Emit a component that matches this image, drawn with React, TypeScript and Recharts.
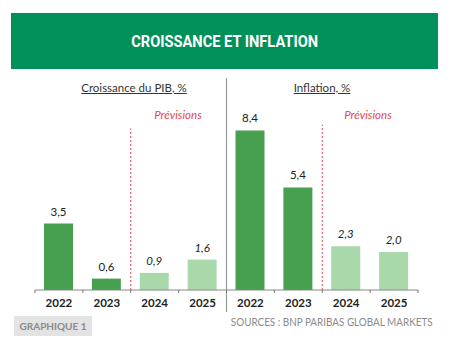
import React from "react";
import { BarChart, Bar, XAxis, YAxis, Cell, LabelList, ReferenceLine } from "recharts";

const years = ["2022", "2023", "2024", "2025"];
const gdpGrowth = [3.5, 0.6, 0.9, 1.6];
const inflation = [8.4, 5.4, 2.3, 2.0];
const forecastYears = ["2024", "2025"];

const rows = [
  ...years.map((y, i) => ({ key: `pib-${y}`, year: y, value: gdpGrowth[i], forecast: forecastYears.includes(y) })),
  ...years.map((y, i) => ({ key: `inf-${y}`, year: y, value: inflation[i], forecast: forecastYears.includes(y) })),
];

const W = 455;
const H = 347;
const margin = { top: 100, right: 37, bottom: 27, left: 35 };
const halfBand = (W - margin.left - margin.right) / rows.length / 2;

const DARK = "#47a04f";
const LIGHT = "#a9d9ab";
const RED = "#e8464f";
const FONT = "Lato, 'Open Sans', sans-serif";

const fmt = (v: number) => v.toFixed(1).replace(".", ",");

const YearTick = (props: any) => {
  const { x, y, payload, index } = props;
  const row = rows.find((r) => r.key === payload.value);
  return (
    <g>
      <line x1={x - halfBand} x2={x - halfBand} y1={y - 8} y2={y - 5} stroke="#777" />
      {index === rows.length - 1 && (
        <line x1={x + halfBand} x2={x + halfBand} y1={y - 8} y2={y - 5} stroke="#777" />
      )}
      <text x={x} y={y} dy="0.75em" textAnchor="middle" fontSize={11.5} fontWeight={700} fill="#222" fontFamily={FONT}>
        {row ? row.year : ""}
      </text>
    </g>
  );
};

const ValueLabel = (props: any) => {
  const { x, y, width, value, index } = props;
  const f = rows[index]?.forecast;
  return (
    <text
      x={x + width / 2}
      y={y - 8}
      textAnchor="middle"
      fontSize={11.5}
      fontStyle={f ? "italic" : "normal"}
      fill="#222"
      fontFamily={FONT}
    >
      {fmt(value)}
    </text>
  );
};

export default function App() {
  return (
    <div style={{ position: "absolute", left: 0, top: 0, width: W, height: H, background: "#fff", overflow: "hidden", fontFamily: FONT }}>
      <div
        style={{
          position: "absolute",
          left: 11,
          top: 13,
          width: 427,
          height: 56,
          background: "#00905a",
          color: "#fff",
          display: "flex",
          alignItems: "center",
          justifyContent: "center",
          fontFamily: "Roboto, sans-serif",
          fontWeight: 700,
          fontSize: 17,
        }}
      >
        <span style={{ display: "inline-block", transform: "scaleX(0.86)", whiteSpace: "nowrap" }}>
          CROISSANCE ET INFLATION
        </span>
      </div>

      <BarChart width={W} height={H} data={rows} margin={margin} style={{ position: "absolute", left: 0, top: 0 }}>
        <YAxis hide domain={[0, 10]} />
        <XAxis
          dataKey="key"
          interval={0}
          tick={<YearTick />}
          tickLine={false}
          tickSize={6}
          tickMargin={2}
          axisLine={{ stroke: "#888" }}
        />
        <ReferenceLine
          segment={[{ x: "inf-2022", y: -1.16 }, { x: "inf-2022", y: 11.15 }]}
          position="start"
          stroke="#999"
          strokeWidth={1.2}
          ifOverflow="visible"
        />
        <ReferenceLine
          segment={[{ x: "pib-2024", y: 0 }, { x: "pib-2024", y: 8.5 }]}
          position="start"
          stroke={RED}
          strokeDasharray="2 2"
          ifOverflow="visible"
        />
        <ReferenceLine
          segment={[{ x: "inf-2024", y: 0 }, { x: "inf-2024", y: 8.7 }]}
          position="start"
          stroke={RED}
          strokeDasharray="2 2"
          ifOverflow="visible"
        />
        <Bar dataKey="value" barSize={29} isAnimationActive={false}>
          {rows.map((r) => (
            <Cell key={r.key} fill={r.forecast ? LIGHT : DARK} />
          ))}
          <LabelList dataKey="value" content={<ValueLabel />} />
        </Bar>
      </BarChart>

      <div style={{ position: "absolute", left: 34, width: 200, top: 81, textAlign: "center", fontSize: 11.5, color: "#333", textDecoration: "underline", lineHeight: "14px" }}>
        Croissance du PIB, %
      </div>
      <div style={{ position: "absolute", left: 222, width: 200, top: 81, textAlign: "center", fontSize: 11.5, color: "#333", textDecoration: "underline", lineHeight: "14px" }}>
        Inflation, %
      </div>
      <div style={{ position: "absolute", left: 128, width: 100, top: 108, textAlign: "center", fontSize: 11.5, color: RED, fontStyle: "italic", lineHeight: "14px" }}>
        Prévisions
      </div>
      <div style={{ position: "absolute", left: 318, width: 100, top: 108, textAlign: "center", fontSize: 11.5, color: RED, fontStyle: "italic", lineHeight: "14px" }}>
        Prévisions
      </div>

      <div
        style={{
          position: "absolute",
          left: 14,
          top: 316,
          width: 78,
          height: 20,
          background: "#e3e3e3",
          color: "#8a8a8a",
          fontSize: 10,
          fontWeight: 700,
          display: "flex",
          alignItems: "center",
          justifyContent: "center",
        }}
      >
        GRAPHIQUE 1
      </div>
      <div
        style={{
          position: "absolute",
          right: 22,
          top: 315,
          fontSize: 11.5,
          color: "#8a8a8a",
          lineHeight: "14px",
          whiteSpace: "nowrap",
          transform: "scaleX(0.86)",
          transformOrigin: "right center",
        }}
      >
        SOURCES : BNP PARIBAS GLOBAL MARKETS
      </div>
    </div>
  );
}
